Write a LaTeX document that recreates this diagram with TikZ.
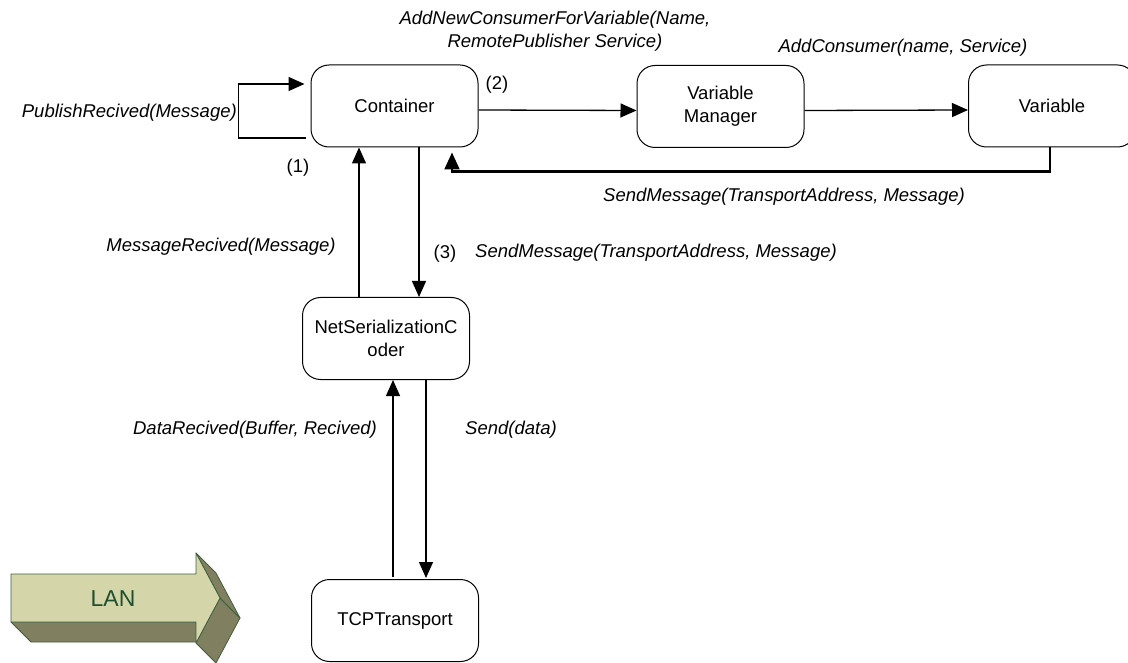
\documentclass[tikz,border=0pt]{standalone}
\usepackage{fontspec}
\setmainfont{Liberation Sans}
\usetikzlibrary{arrows.meta,calc}
\definecolor{lanface}{HTML}{D4D6AA}
\definecolor{lanside}{HTML}{808060}
\definecolor{lanline}{HTML}{3F5F3F}
\definecolor{lantext}{HTML}{1F4F2F}
\begin{document}
\begin{tikzpicture}[x=1pt,y=-1pt,
  box/.style={draw, rounded corners=18pt, minimum width=167pt, minimum height=82pt,
    inner sep=0pt, align=center, line width=1pt, font=\fontsize{18.5}{23}\selectfont},
  lbl/.style={inner sep=0pt, align=center, font=\fontsize{18.5}{23}\selectfont\itshape},
  num/.style={inner sep=0pt, font=\fontsize{18.5}{23}\selectfont},
  conn/.style={line width=1.3pt, -{Triangle[length=16pt,width=14pt]}},
  heavyconn/.style={line width=2.2pt, -{Triangle[length=17pt,width=15pt]}},
  lanpart/.style={draw=lanline, line width=0.8pt, line join=round}]
\useasboundingbox (0,0) rectangle (1128,663);

% components
\node[box] (cont) at (394.5,106) {Container};
\node[box] (vm)   at (720.5,106.5) {Variable\\Manager};
\node[box] (var)  at (1052,106) {Variable};
\node[box] (nsc)  at (386,338.5) {NetSerializationC\\oder};
\node[box] (tcp)  at (395,620.5) {TCPTransport};

% self call on the container
\coordinate (loopout) at ($(cont.west)+(-5,32)$);
\coordinate (loopin)  at ($(cont.west)+(-6,-22)$);
\draw[conn] (loopout) -- ++(-67,0) |- (loopin);

% container -> variable manager -> variable
\draw[conn] ($(cont.east)+(0,4)$) -- ($(vm.west)+(0,4)$);
\draw[conn] ($(vm.east)+(0,4)$) -- ($(var.west)+(0,4)$);

% variable back to the container
\coordinate (rettip) at ($(cont.south)+(57.5,5)$);
\draw[heavyconn] ($(var.south)+(-2,0)$) -- ++(0,24) -| (rettip);

% container <-> serialization coder
\draw[conn] ($(cont.south)+(24.5,0)$) -- ($(nsc.north)+(33,0)$);
\draw[conn] ($(nsc.north)+(-27,0)$) -- ($(cont.south)+(-35.5,0)$);

% serialization coder <-> transport
\draw[conn] ($(tcp.north)+(-2,-2)$) -- ($(nsc.south)+(7,0)$);
\draw[conn] ($(nsc.south)+(40,0)$) -- ($(tcp.north)+(31,-1)$);

% labels
\node[lbl, anchor=east] (lpub) at (237,113) {PublishRecived(Message)};
\node[num] (n1) at (298,168) {(1)};
\node[num] (n2) at (497,85) {(2)};
\node[lbl] (laddnew) at (555,31.5) {AddNewConsumerForVariable(Name,\\RemotePublisher Service)};
\node[lbl] (laddcons) at (903,48) {AddConsumer(name, Service)};
\node[lbl] (lsendret) at (784,197) {SendMessage(TransportAddress, Message)};
\node[lbl] (lmsgrec) at (221,247) {MessageRecived(Message)};
\node[num] (n3) at (445,254) {(3)};
\node[lbl, anchor=west] (lsend) at (475,253) {SendMessage(TransportAddress, Message)};
\node[lbl, anchor=east] (ldata) at (377,430) {DataRecived(Buffer, Recived)};
\node[lbl] (lsenddata) at (511,430) {Send(data)};

% LAN block arrow (extruded down and to the right)
\filldraw[lanpart, fill=lanside] (11,622) -- (196,622) -- (216,642) -- (31,642) -- cycle;
\filldraw[lanpart, fill=lanside] (220,598) -- (196,643) -- (216,663) -- (240,618) -- cycle;
\filldraw[lanpart, fill=lanside] (196,553) -- (220,598) -- (240,618) -- (216,573) -- cycle;
\filldraw[lanpart, fill=lanface] (11,574) -- (196,574) -- (196,553) -- (220,598)
  -- (196,643) -- (196,622) -- (11,622) -- cycle;
\node[inner sep=0pt, text=lantext, font=\fontsize{23}{26}\selectfont] (lan) at (113,599) {LAN};
\end{tikzpicture}
\end{document}
